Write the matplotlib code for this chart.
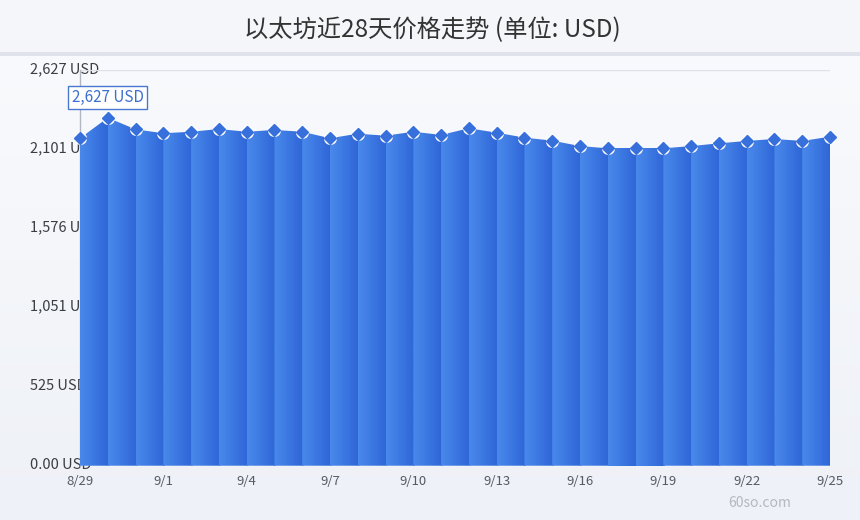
import numpy as np
import matplotlib
matplotlib.use('Agg')
import matplotlib.pyplot as plt
from matplotlib.patches import Polygon, Rectangle
from matplotlib.colors import LinearSegmentedColormap

plt.rcParams['font.family'] = ['Noto Sans CJK SC', 'DejaVu Sans']

# ---- data ----
dates = ['8/29', '8/30', '8/31', '9/1', '9/2', '9/3', '9/4', '9/5', '9/6', '9/7',
         '9/8', '9/9', '9/10', '9/11', '9/12', '9/13', '9/14', '9/15', '9/16', '9/17',
         '9/18', '9/19', '9/20', '9/21', '9/22', '9/23', '9/24', '9/25']
prices = [2174, 2310, 2233, 2207, 2217, 2235, 2217, 2229, 2217, 2174,
          2204, 2191, 2217, 2196, 2240, 2211, 2178, 2158, 2122, 2107,
          2107, 2107, 2122, 2140, 2156, 2169, 2156, 2184]
y_max = 2627
y_ticks = [0, 525.4, 1050.8, 1576.2, 2101.6, 2627]
y_tick_labels = ['0.00 USD', '525 USD', '1,051 USD', '1,576 USD', '2,101 USD', '2,627 USD']
x_tick_step = 3
title = '以太坊近28天价格走势 (单位: USD)'
max_label = '2,627 USD'
watermark = '60so.com'

W, H = 860, 520
fig = plt.figure(figsize=(W / 100, H / 100), dpi=100)

# background
bg = fig.add_axes([0, 0, 1, 1], zorder=-5)
bg.axis('off')
grad = np.linspace(0, 1, 256).reshape(-1, 1)
bg_cmap = LinearSegmentedColormap.from_list('bg', ['#fafbfd', '#eef1f7'])
bg.imshow(grad, cmap=bg_cmap, aspect='auto', extent=[0, 1, 0, 1], origin='upper')
bg.add_patch(Rectangle((0, 1 - 52 / H), 1, 52 / H, color='#f4f6fa', lw=0))
bg.add_patch(Rectangle((0, 1 - 56 / H), 1, 4 / H, color='#dfe2ea', lw=0))
bg.set_xlim(0, 1)
bg.set_ylim(0, 1)

# main axes
left_px, right_px, top_px, bot_px = 80, 830, 70, 465.7
ax = fig.add_axes([left_px / W, (H - bot_px) / H, (right_px - left_px) / W, (bot_px - top_px) / H])
ax.set_facecolor('none')
for s in ['top', 'right', 'bottom']:
    ax.spines[s].set_visible(False)
ax.spines['left'].set_color('#b3b7bf')
ax.spines['left'].set_linewidth(1)
ax.spines['left'].set_zorder(1)

n = len(prices)
xs = np.arange(n)

# grid lines
for v in y_ticks:
    ax.axhline(v, color='#dfe2e8', lw=1, zorder=0.5)

# gradient strips (each slightly overlapped by the next to avoid seams)
strip_cmap = LinearSegmentedColormap.from_list('strip', ['#4a89eb', '#2f67d8'])
g = np.linspace(0, 1, 64).reshape(1, -1)
ext = 0.06
for i in range(n - 1):
    x0, x1 = xs[i], xs[i + 1]
    y0, y1 = prices[i], prices[i + 1]
    xr = x1 + (ext if i < n - 2 else 0)
    yr = y1 + (y1 - y0) * (xr - x1)
    poly = Polygon([[x0, 0], [x0, y0], [xr, yr], [xr, 0]],
                   closed=True, facecolor='none', edgecolor='none')
    ax.add_patch(poly)
    im = ax.imshow(g, cmap=strip_cmap, extent=[x0, x1, 0, max(prices) + 20],
                   aspect='auto', zorder=3 + i * 0.001, interpolation='bilinear')
    im.set_clip_path(poly)
    if xr > x1:
        im2 = ax.imshow(np.ones((1, 2)), cmap=strip_cmap, vmin=0, vmax=1,
                        extent=[x1, xr, 0, max(prices) + 20], aspect='auto', zorder=3 + i * 0.001)
        im2.set_clip_path(poly)

# markers
ax.plot(xs, prices, linestyle='none', marker='o', ms=8.4, mfc='white', mec='white', zorder=5, clip_on=False)
ax.plot(xs, prices, linestyle='none', marker='D', ms=6.6, mfc='#3870db', mec='#3870db', zorder=6, clip_on=False)

ax.set_xlim(0, n - 1)
ax.set_ylim(0, y_max)

# y labels (drawn beneath the fill)
for v, lab in zip(y_ticks, y_tick_labels):
    ax.text(-50 / (right_px - left_px), v + 7, lab, transform=ax.get_yaxis_transform(),
            ha='left', va='center', fontsize=10.5, color='#3a3d42', zorder=0.2, clip_on=False)
ax.set_yticks([])

# x ticks
ax.set_xticks(xs[::x_tick_step])
ax.set_xticklabels(dates[::x_tick_step], fontsize=9.5, color='#555a63')
ax.tick_params(axis='x', length=0, pad=7)

# title
fig.text(432 / W, 1 - 30 / H, title, fontsize=17.5, color='#333333', ha='center', va='center')

# max annotation
fig.text(107.5 / W, 1 - 97.5 / H, max_label, fontsize=11, color='#3d6fcf', ha='center', va='center',
         bbox=dict(boxstyle='square,pad=0.2', fc='white', ec='#4a78d0', lw=1), zorder=10)

# watermark
fig.text(760 / W, 1 - 503 / H, watermark, fontsize=10, color='#b3b8c2', ha='center', va='center')

fig.savefig('out.png', dpi=100)
